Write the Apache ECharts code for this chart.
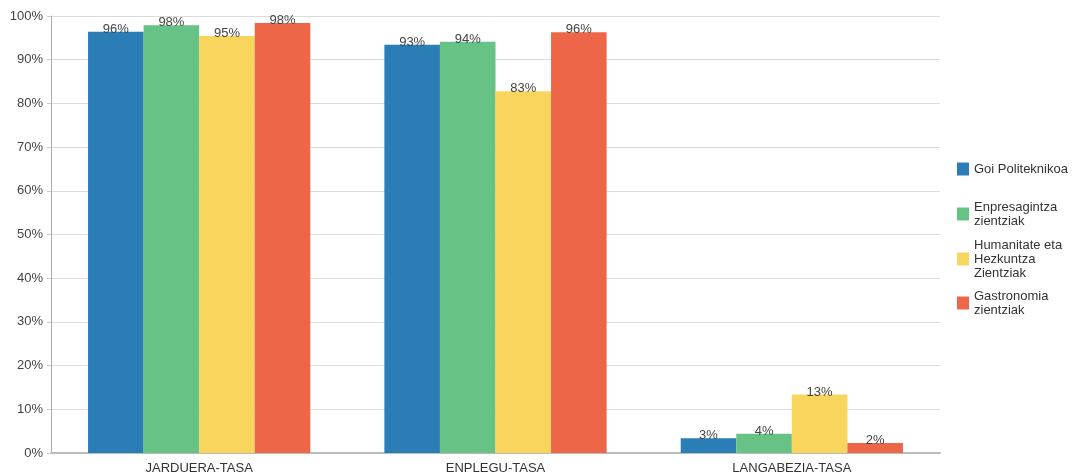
<!DOCTYPE html>
<html><head><meta charset="utf-8">
<script src="https://cdn.jsdelivr.net/npm/echarts@6/dist/echarts.min.js"></script>
<style>html,body{margin:0;padding:0;background:#fff}#c{width:1072px;height:476px}</style>
</head><body><div id="c"></div>
<script>
var categories = ['JARDUERA-TASA', 'ENPLEGU-TASA', 'LANGABEZIA-TASA'];
var seriesNames = ['Goi Politeknikoa', 'Enpresagintza\nzientziak', 'Humanitate eta\nHezkuntza\nZientziak', 'Gastronomia\nzientziak'];
var goiPoliteknikoa = [96.4, 93.4, 3.4];
var enpresagintza = [97.9, 94.1, 4.4];
var humanitate = [95.4, 82.8, 13.4];
var gastronomia = [98.4, 96.3, 2.3];
var colors = ['#2a7db5', '#66c285', '#f8d55d', '#ee6648'];
var values = [goiPoliteknikoa, enpresagintza, humanitate, gastronomia];

var font = 'Liberation Sans, Arial, sans-serif';
var legendTops = [162, 200, 238, 289];
var legends = seriesNames.map(function (n, i) {
  return {
    orient: 'vertical', left: 957, top: legendTops[i], padding: 0,
    data: [n], icon: 'rect', itemWidth: 12, itemHeight: 13, itemGap: 0,
    selectedMode: false,
    textStyle: { fontFamily: font, fontSize: 13, color: '#333', lineHeight: 14, padding: [0, 0, 0, 0] }
  };
});

var series = seriesNames.map(function (n, i) {
  return {
    name: n, type: 'bar', data: values[i],
    barGap: 0, barCategoryGap: '25%',
    itemStyle: { color: colors[i] },
    label: {
      show: true, position: 'top', distance: -4,
      fontFamily: font, fontSize: 13, color: '#444',
      formatter: function (p) { return Math.round(p.value) + '%'; }
    }
  };
});

var chart = echarts.init(document.getElementById('c'), null, { renderer: 'canvas' });
chart.setOption({
  animation: false,
  legend: legends,
  grid: { left: 51, right: 132, top: 16, bottom: 23, containLabel: false },
  xAxis: {
    type: 'category', data: categories,
    axisLine: { lineStyle: { color: '#bbb', width: 2 } },
    axisTick: { show: false },
    axisLabel: { fontFamily: font, fontSize: 13, color: '#333', margin: 9 }
  },
  yAxis: {
    type: 'value', min: 0, max: 100, interval: 10,
    axisLine: { show: true, lineStyle: { color: '#aaa' } },
    axisTick: { show: true, length: 4, lineStyle: { color: '#ccc' } },
    splitLine: { lineStyle: { color: '#dcdcdc' } },
    axisLabel: { fontFamily: font, fontSize: 13, color: '#444', margin: 8, formatter: '{value}%' }
  },
  series: series
});
</script></body></html>
